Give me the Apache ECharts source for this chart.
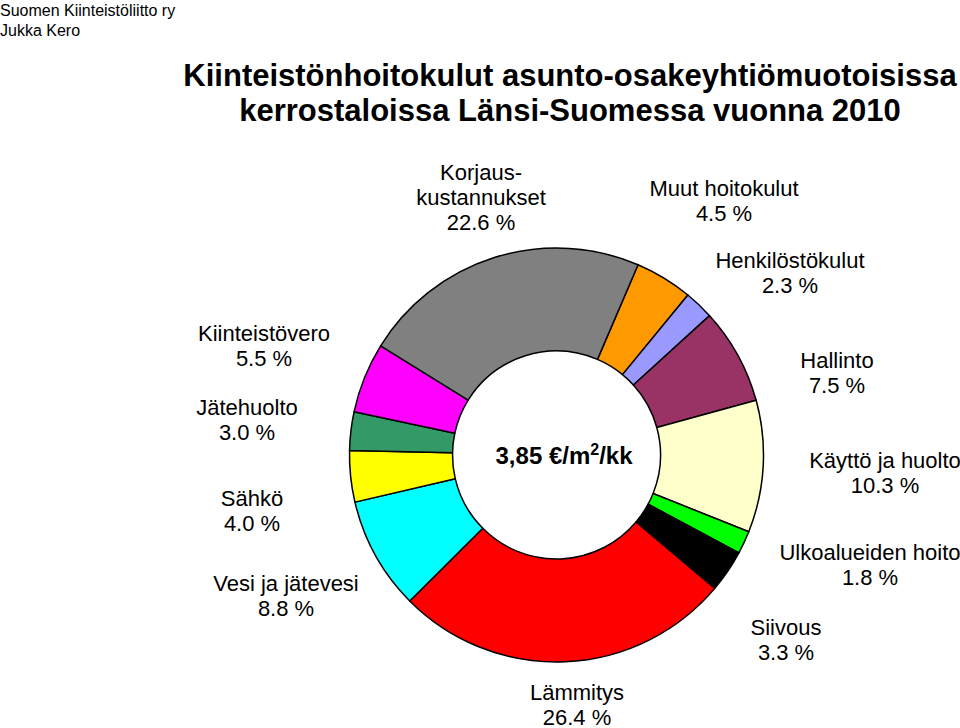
<!DOCTYPE html>
<html>
<head>
<meta charset="utf-8">
<script src="https://cdn.jsdelivr.net/npm/echarts@6/dist/echarts.min.js"></script>
<style>
html,body{margin:0;padding:0;background:#fff;}
#chart{width:960px;height:728px;}
</style>
</head>
<body>
<div id="chart"></div>
<script>
// ---- data ----
var categories = [
  'Muut hoitokulut', 'Henkilöstökulut', 'Hallinto', 'Käyttö ja huolto',
  'Ulkoalueiden hoito', 'Siivous', 'Lämmitys', 'Vesi ja jätevesi',
  'Sähkö', 'Jätehuolto', 'Kiinteistövero', 'Korjauskustannukset'
];
var labelNames = [
  'Muut hoitokulut', 'Henkilöstökulut', 'Hallinto', 'Käyttö ja huolto',
  'Ulkoalueiden hoito', 'Siivous', 'Lämmitys', 'Vesi ja jätevesi',
  'Sähkö', 'Jätehuolto', 'Kiinteistövero', 'Korjaus-\nkustannukset'
];
var shares = [4.5, 2.3, 7.5, 10.3, 1.8, 3.3, 26.4, 8.8, 4.0, 3.0, 5.5, 22.6];
var totalCost = '3,85';
var titleLines = ['Kiinteistönhoitokulut asunto-osakeyhtiömuotoisissa', 'kerrostaloissa Länsi-Suomessa vuonna 2010'];
var sourceLines = ['Suomen Kiinteistöliitto ry', 'Jukka Kero'];

// ---- styles / layout ----
var colors = ['#FF9900', '#9999FF', '#993366', '#FFFFCC', '#00FF00', '#000000',
              '#FF0000', '#00FFFF', '#FFFF00', '#339966', '#FF00FF', '#808080'];
var labelPos = [
  [724, 200.5], [790, 273], [837, 372.5], [885, 473],
  [870, 564.5], [786, 639.5], [577, 704.5], [286, 595.5],
  [252, 510.5], [247, 419.5], [264, 345.5], [481, 197.5]
];
var FONT = 'Arial, "Liberation Sans", Helvetica, sans-serif';

var chart = echarts.init(document.getElementById('chart'), null, {renderer: 'svg'});
var data = categories.map(function (c, i) {
  return {name: c, value: shares[i], itemStyle: {color: colors[i]}};
});

chart.setOption({
  backgroundColor: '#ffffff',
  animation: false,
  graphic: [
    {type: 'text', left: 0, top: 0,
     style: {text: sourceLines.join('\n'), font: '16px ' + FONT, fill: '#000', lineHeight: 20}},
    {type: 'text', x: 570, y: 58,
     style: {text: titleLines.join('\n'), font: 'bold 31px ' + FONT, fill: '#000',
             textAlign: 'center', textVerticalAlign: 'top', lineHeight: 35}},
    {type: 'text', x: 564, y: 455, z: 100,
     style: {
       text: '{a|' + totalCost + ' €/m}{s|2}{a|/kk}',
       textAlign: 'center', textVerticalAlign: 'middle',
       rich: {
         a: {font: 'bold 24px ' + FONT, fill: '#000', lineHeight: 28},
         s: {font: 'bold 16px ' + FONT, fill: '#000', lineHeight: 28, verticalAlign: 'top', padding: [0, 0, 10, 0]}
       }
     }}
  ],
  series: [{
    type: 'pie',
    center: [556.5, 455],
    radius: [104, 207],
    startAngle: 66.8,
    clockwise: true,
    avoidLabelOverlap: false,
    silent: true,
    itemStyle: {borderColor: '#000', borderWidth: 1.5},
    label: {
      show: true,
      position: 'outside',
      formatter: function (p) {
        return labelNames[p.dataIndex] + '\n' + p.value.toFixed(1) + ' %';
      },
      fontFamily: FONT,
      fontSize: 22,
      color: '#000',
      lineHeight: 25,
      align: 'center'
    },
    labelLine: {show: false},
    labelLayout: function (params) {
      var p = labelPos[params.dataIndex];
      return {x: p[0], y: p[1], align: 'center', verticalAlign: 'middle'};
    },
    data: data
  }]
});
</script>
</body>
</html>
